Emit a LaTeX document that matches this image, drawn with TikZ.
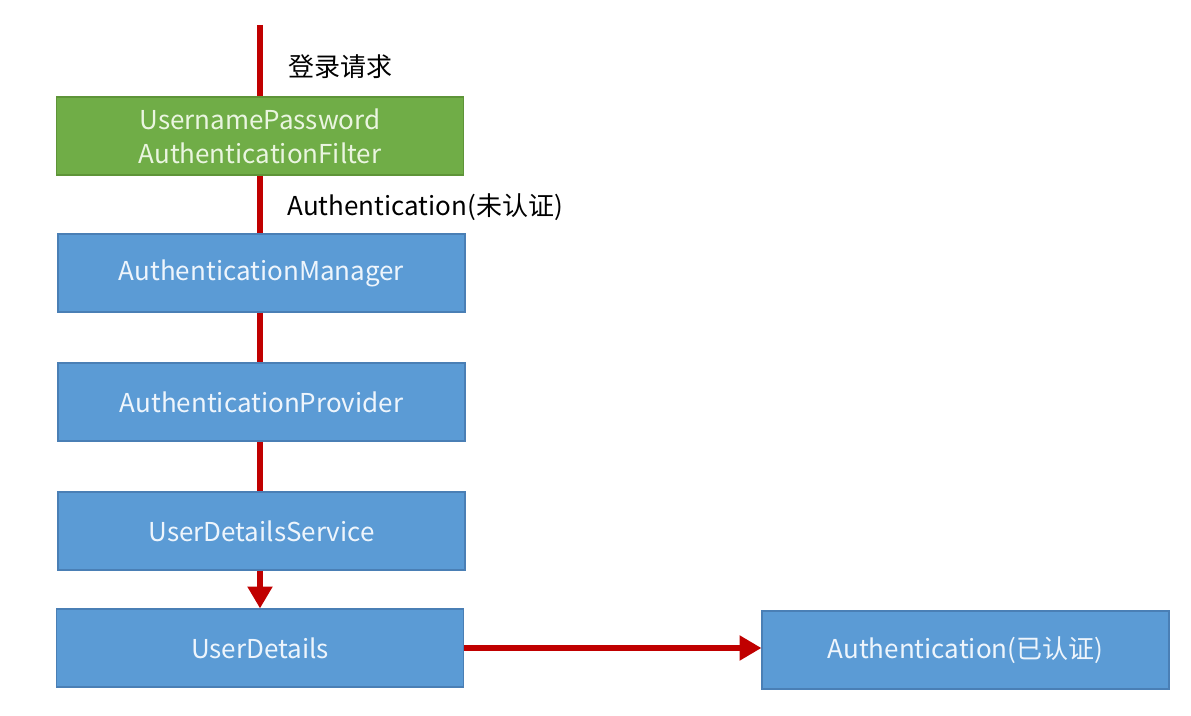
\documentclass[tikz,border=0pt]{standalone}
\usepackage{fontspec}
\setmainfont{Noto Sans CJK SC}
\usetikzlibrary{arrows.meta}
\definecolor{boxblue}{HTML}{5B9BD5}
\definecolor{boxblueline}{HTML}{4A7FB5}
\definecolor{boxgreen}{HTML}{70AD47}
\definecolor{boxgreenline}{HTML}{5E9438}
\definecolor{flowred}{HTML}{C00000}
\definecolor{bluetext}{HTML}{EEF5FC}
\definecolor{greentext}{HTML}{EAF5E0}
\tikzset{
  bluebox/.style={draw=boxblueline, line width=0.6pt, fill=boxblue, text=bluetext,
    minimum width=407*0.02cm, minimum height=78*0.02cm, inner sep=0pt,
    font=\fontsize{14.8}{19.3}\selectfont, align=center},
  greenbox/.style={bluebox, draw=boxgreenline, fill=boxgreen, text=greentext},
  flow/.style={draw=flowred, line width=3.4pt},
  flowarrow/.style={flow, -{Triangle[width=13.6pt,length=12.5pt]}},
  lbl/.style={font=\fontsize{14.8}{18}\selectfont, text=black, inner sep=0pt, anchor=west}
}
\begin{document}
\begin{tikzpicture}[x=0.02cm, y=-0.02cm]
\useasboundingbox (0,0) rectangle (1191,716);
\fill[white] (0,0) rectangle (1191,716);
\coordinate (start) at (260,25);
\node[greenbox] (filter) at (260,136) {UsernamePassword\\AuthenticationFilter};
\node[bluebox] (manager) at (261.5,273) {AuthenticationManager};
\node[bluebox] (provider) at (261.5,402) {AuthenticationProvider};
\node[bluebox] (service) at (261.5,531) {UserDetailsService};
\node[bluebox] (details) at (260,648) {UserDetails};
\node[bluebox] (authok) at (965.5,650) {Authentication(已认证)};
\draw[flow] (start) -- (start |- filter.north);
\draw[flow] (filter.south -| start) -- (start |- manager.north);
\draw[flow] (manager.south -| start) -- (start |- provider.north);
\draw[flow] (provider.south -| start) -- (start |- service.north);
\draw[flowarrow] (service.south -| start) -- (start |- details.north);
\draw[flowarrow] (details.east) -- (authok.west |- details.east);
\node[lbl] (login) at (288,67) {登录请求};
\node[lbl] (unauth) at (287,207) {Authentication(未认证)};
\end{tikzpicture}
\end{document}
